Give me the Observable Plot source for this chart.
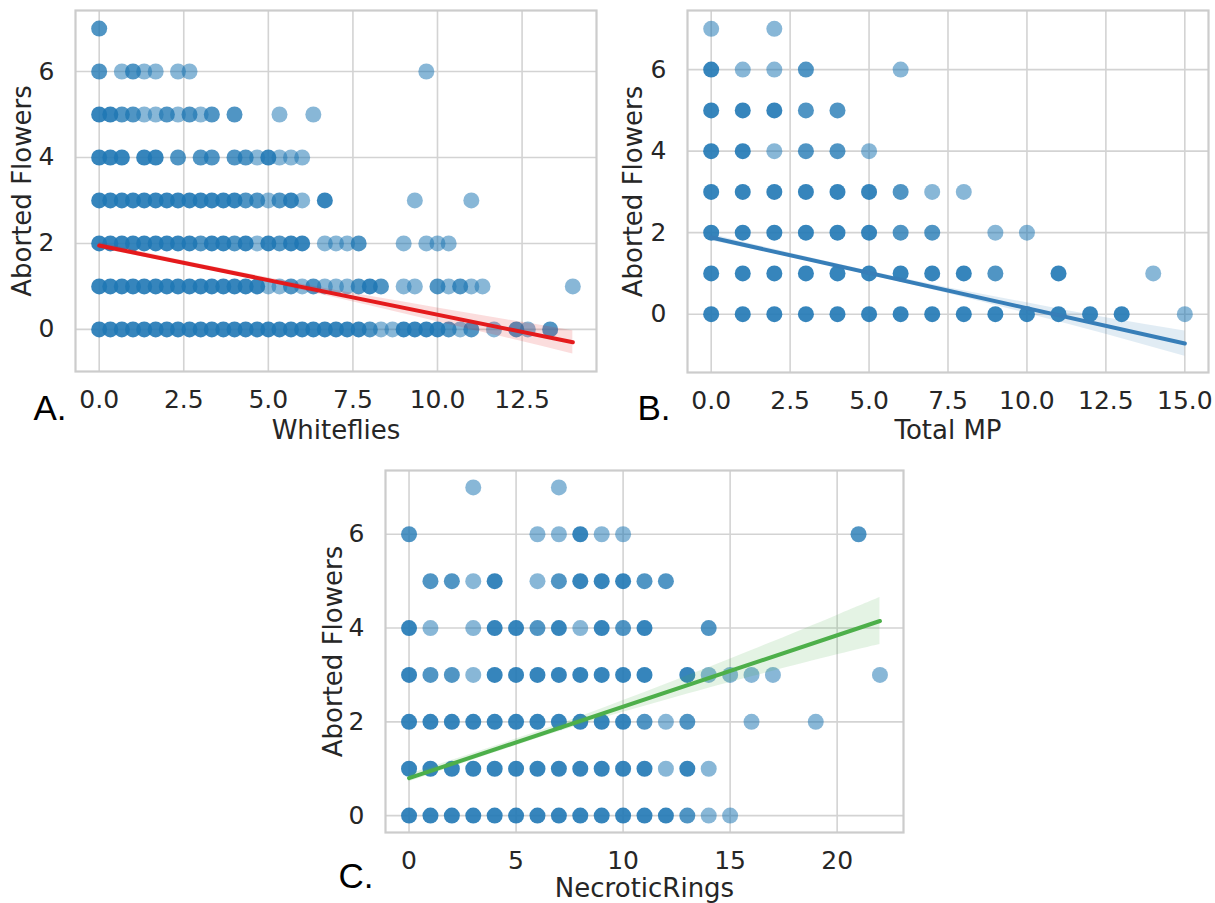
<!DOCTYPE html>
<html>
<head>
<meta charset="utf-8">
<script src="https://cdn.jsdelivr.net/npm/d3@7"></script>
<script src="https://cdn.jsdelivr.net/npm/@observablehq/plot@0.6"></script>
<style>
  html, body { margin: 0; padding: 0; background: #fff; }
  #wrap { position: relative; width: 1215px; height: 903px; background: #fff; overflow: hidden; }
  #wrap svg { position: absolute; left: 0; top: 0; }
</style>
</head>
<body>
<div id="wrap"></div>
<script>
// ---------------- data ----------------
const Y_TICKS = [0, 2, 4, 6];
const WF_TICKS = [0, 2.5, 5, 7.5, 10, 12.5];
const MP_TICKS = [0, 2.5, 5, 7.5, 10, 12.5, 15];
const NR_TICKS = [0, 5, 10, 15, 20];

// [x, abortedFlowers, overlap count]
const whitefliesPts = [
  [0,0,3],[0.33,0,3],[0.67,0,3],[1,0,3],[1.33,0,3],[1.67,0,3],[2,0,3],[2.33,0,3],[2.67,0,3],[3,0,3],[3.33,0,3],[3.67,0,3],[4,0,3],[4.33,0,3],[4.67,0,3],[5,0,3],[5.33,0,3],[5.67,0,3],[6,0,3],[6.33,0,3],[6.67,0,3],[7,0,3],[7.33,0,3],[7.67,0,3],[8,0,2],[8.33,0,1],[8.67,0,1],[9,0,3],[9.33,0,3],[9.67,0,3],[10,0,3],[10.33,0,2],[10.67,0,1],[11,0,2],[11.67,0,1],[12.33,0,2],[12.67,0,1],[13.33,0,2],
  [0,1,3],[0.33,1,3],[0.67,1,3],[1,1,3],[1.33,1,3],[1.67,1,3],[2,1,3],[2.33,1,3],[2.67,1,3],[3,1,3],[3.33,1,3],[3.67,1,3],[4,1,3],[4.33,1,3],[4.67,1,3],[5,1,1],[5.33,1,1],[5.67,1,2],[6,1,1],[6.33,1,2],[6.67,1,1],[7,1,1],[7.33,1,1],[7.67,1,2],[8,1,3],[8.33,1,2],[9,1,1],[9.33,1,1],[10,1,2],[10.33,1,1],[10.67,1,2],[11,1,1],[11.33,1,1],[14,1,1],
  [0,2,3],[0.33,2,3],[0.67,2,3],[1,2,3],[1.33,2,3],[1.67,2,3],[2,2,3],[2.33,2,3],[2.67,2,3],[3,2,2],[3.33,2,3],[3.67,2,3],[4,2,2],[4.33,2,3],[4.67,2,1],[5,2,3],[5.33,2,2],[5.67,2,3],[6,2,3],[6.67,2,1],[7,2,1],[7.33,2,1],[7.67,2,2],[9,2,1],[9.67,2,1],[10,2,1],[10.33,2,1],
  [0,3,3],[0.33,3,3],[0.67,3,3],[1,3,3],[1.33,3,3],[1.67,3,3],[2,3,3],[2.33,3,3],[2.67,3,3],[3,3,3],[3.33,3,3],[3.67,3,3],[4,3,3],[4.33,3,2],[4.67,3,2],[5,3,1],[5.33,3,2],[5.67,3,3],[6,3,1],[6.67,3,3],[9.33,3,1],[11,3,1],
  [0,4,3],[0.33,4,3],[0.67,4,3],[1.33,4,3],[1.67,4,3],[2.33,4,2],[3,4,2],[3.33,4,2],[4,4,2],[4.33,4,2],[4.67,4,1],[5,4,3],[5.33,4,1],[5.67,4,1],[6,4,1],
  [0,5,3],[0.33,5,3],[0.67,5,2],[1,5,2],[1.33,5,1],[1.67,5,1],[2,5,2],[2.33,5,1],[2.67,5,2],[3,5,1],[3.33,5,2],[4,5,2],[5.33,5,1],[6.33,5,1],
  [0,6,2],[0.67,6,1],[1,6,2],[1.33,6,1],[1.67,6,1],[2.33,6,1],[2.67,6,1],[9.67,6,1],
  [0,7,2]
];

const totalMPPts = [
  [0,0,3],[1,0,3],[2,0,3],[3,0,3],[4,0,3],[5,0,3],[6,0,3],[7,0,3],[8,0,3],[9,0,3],[10,0,3],[11,0,3],[12,0,3],[13,0,3],[15,0,1],
  [0,1,3],[1,1,3],[2,1,3],[3,1,3],[4,1,3],[5,1,3],[6,1,3],[7,1,3],[8,1,3],[9,1,2],[11,1,3],[14,1,1],
  [0,2,3],[1,2,3],[2,2,3],[3,2,3],[4,2,3],[5,2,3],[6,2,2],[7,2,2],[9,2,1],[10,2,1],
  [0,3,3],[1,3,3],[2,3,3],[3,3,3],[4,3,3],[5,3,3],[6,3,2],[7,3,1],[8,3,1],
  [0,4,3],[1,4,3],[2,4,1],[3,4,2],[4,4,2],[5,4,1],
  [0,5,3],[1,5,3],[2,5,3],[3,5,2],[4,5,2],
  [0,6,3],[1,6,1],[2,6,1],[3,6,2],[6,6,1],
  [0,7,1],[2,7,1]
];

const necroticPts = [
  [0,0,3],[1,0,3],[2,0,3],[3,0,3],[4,0,3],[5,0,3],[6,0,3],[7,0,3],[8,0,3],[9,0,3],[10,0,3],[11,0,3],[12,0,3],[13,0,2],[14,0,1],[15,0,1],
  [0,1,3],[1,1,3],[2,1,3],[3,1,3],[4,1,3],[5,1,3],[6,1,3],[7,1,3],[8,1,3],[9,1,3],[10,1,3],[11,1,3],[12,1,1],[13,1,3],[14,1,1],
  [0,2,3],[1,2,3],[2,2,3],[3,2,3],[4,2,3],[5,2,3],[6,2,3],[7,2,3],[8,2,3],[9,2,3],[10,2,3],[11,2,2],[12,2,1],[13,2,2],[16,2,1],[19,2,1],
  [0,3,3],[1,3,2],[2,3,2],[3,3,1],[4,3,3],[5,3,3],[6,3,3],[7,3,3],[8,3,3],[9,3,3],[10,3,3],[11,3,3],[13,3,3],[14,3,1],[15,3,1],[16,3,1],[17,3,1],[22,3,1],
  [0,4,3],[1,4,1],[3,4,1],[4,4,3],[5,4,3],[6,4,2],[7,4,3],[8,4,1],[9,4,3],[10,4,2],[11,4,3],[14,4,2],
  [1,5,2],[2,5,2],[3,5,1],[4,5,3],[6,5,1],[7,5,2],[8,5,3],[9,5,3],[10,5,3],[11,5,2],[12,5,2],
  [0,6,2],[6,6,1],[7,6,1],[8,6,3],[9,6,1],[10,6,1],[21,6,2],
  [3,7,1],[7,7,1]
];

// regression fits (endpoints) and confidence bands
const wfLineX = [0, 14];
const wfLineY = [1.95, -0.30];
const wfBandX = [0, 2, 4, 6, 8, 10, 12, 14];
const wfBandLo = [1.88, 1.58, 1.26, 0.91, 0.55, 0.18, -0.19, -0.57];
const wfBandHi = [2.02, 1.68, 1.36, 1.05, 0.77, 0.50, 0.23, -0.03];

const mpLineX = [0, 15];
const mpLineY = [1.88, -0.72];
const mpBandX = [0, 2.5, 5, 7.5, 10, 12.5, 15];
const mpBandLo = [1.80, 1.40, 0.96, 0.51, 0.02, -0.49, -1.03];
const mpBandHi = [1.96, 1.50, 1.06, 0.65, 0.28, -0.09, -0.41];

const nrLineX = [0, 22];
const nrLineY = [0.80, 4.15];
const nrBandX = [0, 4, 8, 12, 16, 20, 22];
const nrBandLo = [0.72, 1.34, 1.93, 2.46, 2.96, 3.43, 3.65];
const nrBandHi = [0.88, 1.48, 2.11, 2.80, 3.52, 4.27, 4.65];

// ---------------- drawing ----------------
const W = 1215, H = 903;
const POINT = "#1f77b4";
const GRID = "#d3d3d3";
const TXT = "#262626";

function panel(o) {
  const pts = o.pts.map(([x, y, n]) => ({x, y, n}));
  const band = o.bandX.map((x, i) => ({x, lo: o.bandLo[i], hi: o.bandHi[i]}));
  const line = o.lineX.map((x, i) => ({x, y: o.lineY[i]}));
  const [l, t, r, b] = o.frame;
  return Plot.plot({
    width: W, height: H,
    marginLeft: l, marginTop: t, marginRight: W - r, marginBottom: H - b,
    style: {background: "transparent", overflow: "visible", fontFamily: "DejaVu Sans", color: TXT},
    x: {domain: o.xDomain},
    y: {domain: o.yDomain},
    marks: [
      Plot.gridX(o.xTicks, {stroke: GRID, strokeOpacity: 1, strokeWidth: 1.6}),
      Plot.gridY(Y_TICKS, {stroke: GRID, strokeOpacity: 1, strokeWidth: 1.6}),
      Plot.frame({stroke: "#cccccc", strokeWidth: 2.2}),
      Plot.dot(pts, {x: "x", y: "y", r: 8, fill: POINT, fillOpacity: d => 1 - Math.pow(0.47, d.n), stroke: "none"}),
      Plot.areaY(band, {x: "x", y1: "lo", y2: "hi", fill: o.color, fillOpacity: 0.15, curve: "natural"}),
      Plot.line(line, {x: "x", y: "y", stroke: o.color, strokeWidth: 4}),
      Plot.axisX({ticks: o.xTicks, tickFormat: o.xFmt, tickSize: 0, tickPadding: 19, fontSize: 25, label: null}),
      Plot.axisY({ticks: Y_TICKS, tickFormat: d3.format("d"), tickSize: 0, tickPadding: 21, fontSize: 25, label: null}),
      Plot.text([o.xLabel], {frameAnchor: "bottom", dy: o.xLabelDy, textAnchor: "middle", lineAnchor: "middle", fontSize: 26, fill: TXT}),
      Plot.text(["Aborted Flowers"], {frameAnchor: "left", dx: o.yLabelDx, rotate: -90, textAnchor: "middle", lineAnchor: "middle", fontSize: 26, fill: TXT}),
      Plot.text([o.letter], {frameAnchor: "bottom-left", dx: o.letterDx, dy: o.letterDy, textAnchor: "start", lineAnchor: "middle", fontSize: 35, fontFamily: "Liberation Sans", fill: "#000"})
    ]
  });
}

const wrap = document.getElementById("wrap");
wrap.append(panel({
  pts: whitefliesPts, frame: [75, 10, 596, 371],
  xDomain: [-0.7, 14.7], yDomain: [-0.98, 7.42],
  xTicks: WF_TICKS, xFmt: d3.format(".1f"),
  lineX: wfLineX, lineY: wfLineY, bandX: wfBandX, bandLo: wfBandLo, bandHi: wfBandHi,
  color: "#e41a1c", xLabel: "Whiteflies", xLabelDy: 59, yLabelDx: -53,
  letter: "A.", letterDx: -42, letterDy: 37
}));
wrap.append(panel({
  pts: totalMPPts, frame: [687, 10, 1208, 372],
  xDomain: [-0.75, 15.75], yDomain: [-1.43, 7.45],
  xTicks: MP_TICKS, xFmt: d3.format(".1f"),
  lineX: mpLineX, lineY: mpLineY, bandX: mpBandX, bandLo: mpBandLo, bandHi: mpBandHi,
  color: "#377eb8", xLabel: "Total MP", xLabelDy: 58, yLabelDx: -54,
  letter: "B.", letterDx: -50, letterDy: 36
}));
wrap.append(panel({
  pts: necroticPts, frame: [385, 470, 903, 832],
  xDomain: [-1.1, 23.1], yDomain: [-0.36, 7.36],
  xTicks: NR_TICKS, xFmt: d3.format("d"),
  lineX: nrLineX, lineY: nrLineY, bandX: nrBandX, bandLo: nrBandLo, bandHi: nrBandHi,
  color: "#4daf4a", xLabel: "NecroticRings", xLabelDy: 56, yLabelDx: -52,
  letter: "C.", letterDx: -47, letterDy: 44
}));
</script>
</body>
</html>
